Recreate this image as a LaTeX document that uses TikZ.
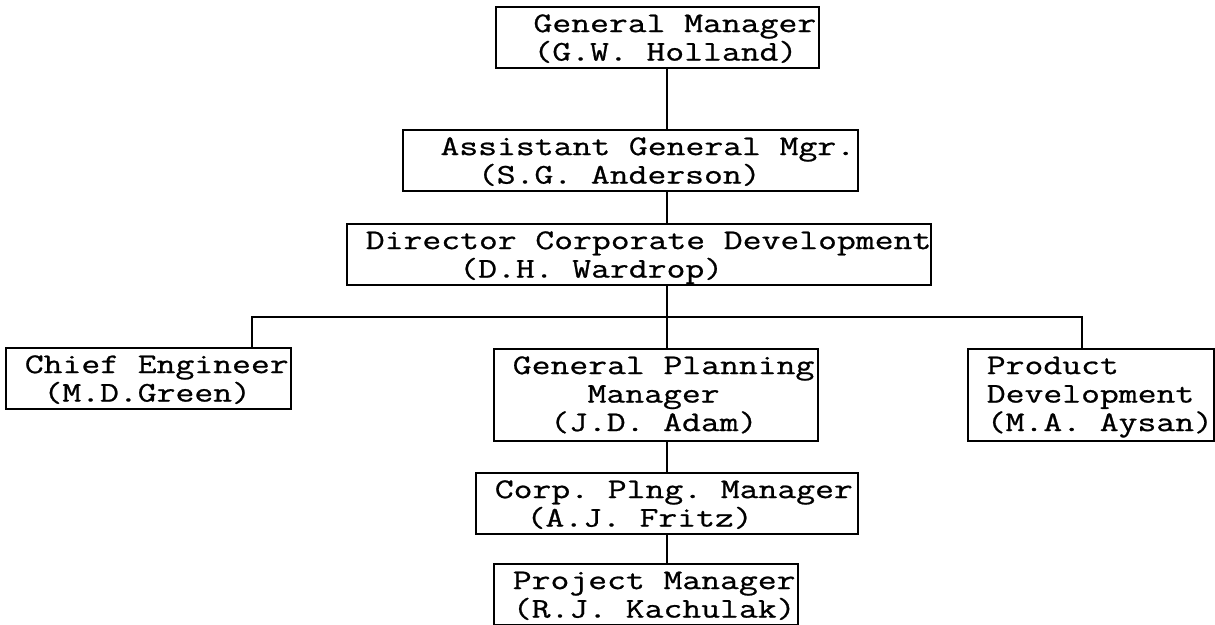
\documentclass[tikz,border=0pt]{standalone}
\usepackage{fontspec}
\setmainfont{Latin Modern Mono}[FakeStretch=1.285, FakeBold=0.8]
\usepackage{tikz}

% typewriter column (one character cell)
\newcommand{\indentby}[1]{\hspace*{#1\dimexpr9.35pt\relax}}
\newcommand{\typewriter}{\fontsize{14.25}{14.25}\selectfont}

\begin{document}
\begin{tikzpicture}[x=0.5pt, y=-0.5pt,
			every node/.style={draw, anchor=north west, inner sep=0pt, align=left,
				font=\typewriter, text height=12.5pt, text depth=18pt,
				execute at begin node={\spaceskip=9.35pt\relax\xspaceskip=9.35pt\relax
					\rightskip=0pt plus 2em minus 20pt\relax\hyphenpenalty=10000\relax}},
			post/.style={text width=#1},
			tall/.style={text depth=33.5pt},
			every path/.style={line width=1.1pt}]
			
			\useasboundingbox (0,0) rectangle (1215,625);
			
			% Define the nodes for the top line
			\node[post=161.5pt] (gm) at (495,6) {\indentby{2}General Manager\\\indentby{2}(G.W. Holland)};
			\node[post=227.5pt] (agm) at (402,129) {\indentby{2}Assistant General Mgr.\\\indentby{4}(S.G. Anderson)};
			\node[post=292pt] (dcd) at (346,223) {\indentby{1}Director Corporate Development\\\indentby{6}(D.H. Wardrop)};
			
			% Define the nodes for the middle line
			\node[post=142.5pt] (ce) at (5,347) {\indentby{1}Chief Engineer\\\indentby{2}(M.D.Green)};
			\node[post=162pt, tall] (gpm) at (493,348) {\indentby{1}General Planning\\\indentby{5}Manager\\\indentby{3}(J.D. Adam)};
			\node[post=123pt, tall] (pd) at (967,348) {\indentby{1}Product\\\indentby{1}Development\\\indentby{1}(M.A. Aysan)};
			
			% Define the nodes for the bottom lines
			\node[post=191pt] (cpm) at (475,472) {\indentby{1}Corp. Plng. Manager\\\indentby{2.7}(A.J. Fritz)};
			\node[post=152pt] (pm) at (493,563) {\indentby{1}Project Manager\\\indentby{1}(R.J. Kachulak)};
			
			% Trunk and bus points
			\coordinate (trunk) at (667,317);
			\coordinate (busL) at (252,317);
			\coordinate (busR) at (1082,317);
			
			% Draw lines
			\draw (gm.south -| trunk) -- (agm.north -| trunk);
			\draw (agm.south -| trunk) -- (dcd.north -| trunk);
			\draw (dcd.south -| trunk) -- (trunk);
			\draw (ce.north -| busL) -- (busL) -- (busR) -- (pd.north -| busR);
			\draw (trunk) -- (gpm.north -| trunk);
			\draw (gpm.south -| trunk) -- (cpm.north -| trunk);
			\draw (cpm.south -| trunk) -- (pm.north -| trunk);
		\end{tikzpicture}
\end{document}
